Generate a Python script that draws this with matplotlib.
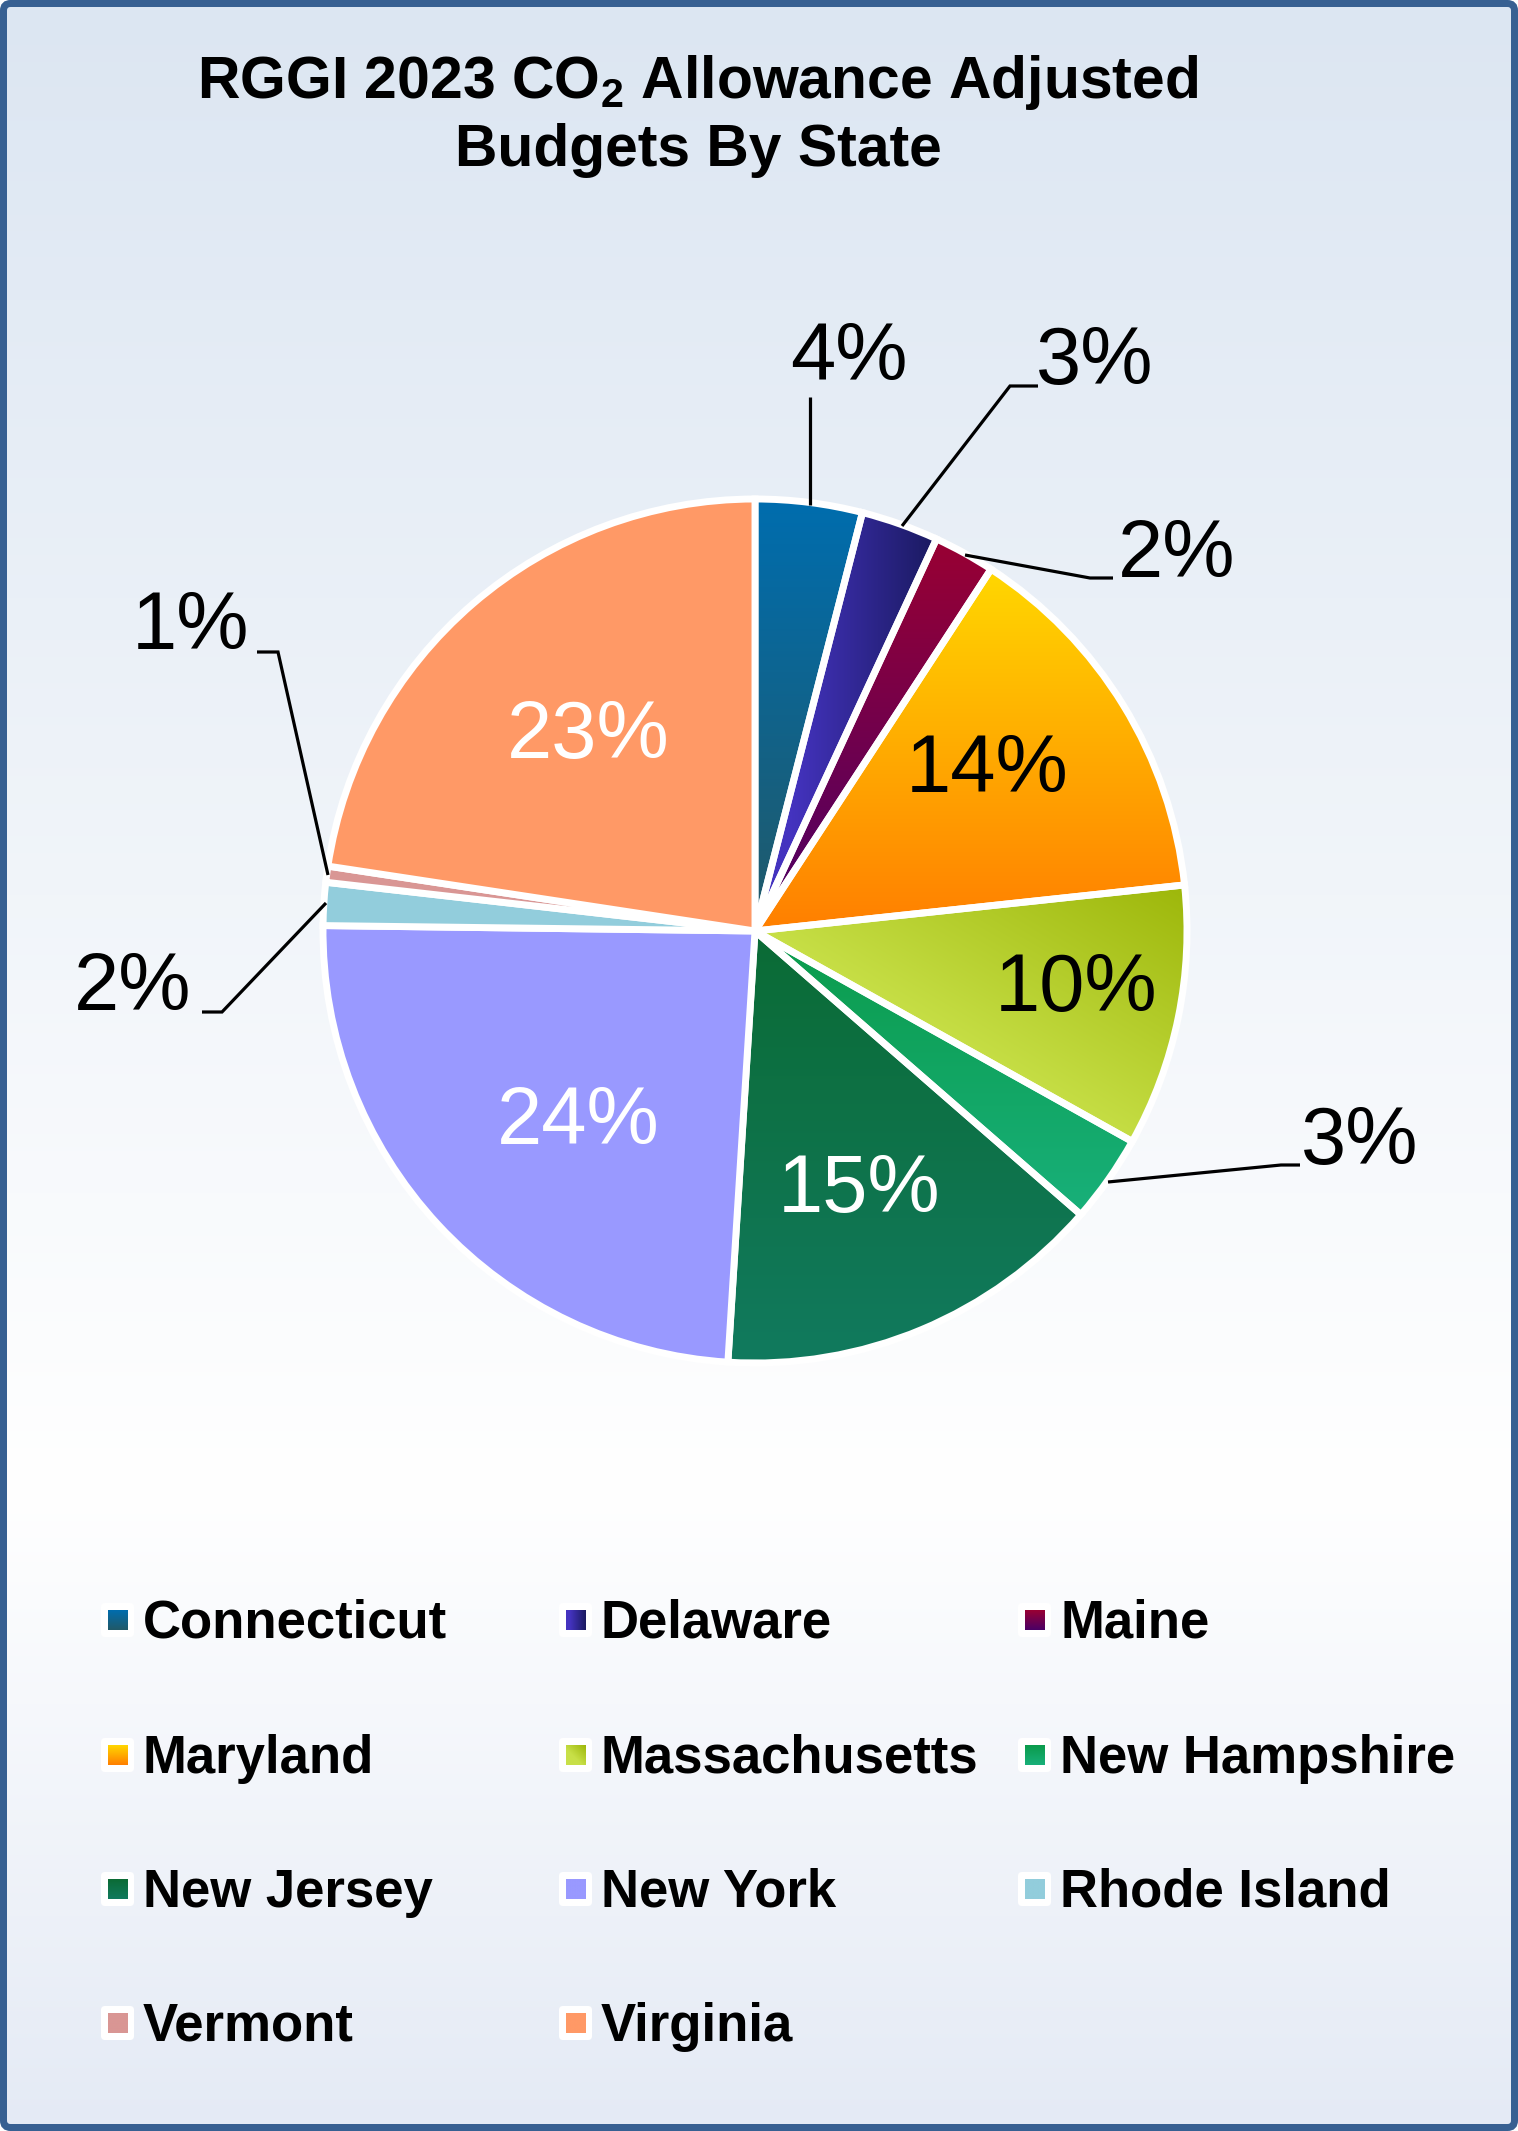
import numpy as np
import matplotlib
matplotlib.use("Agg")
import matplotlib.pyplot as plt
from matplotlib.colors import to_rgb
from matplotlib.patches import FancyBboxPatch

plt.rcParams['font.family'] = ['Liberation Sans', 'DejaVu Sans']
plt.rcParams['mathtext.default'] = 'regular'

# ---------- data ----------
states = ['Connecticut', 'Delaware', 'Maine', 'Maryland', 'Massachusetts', 'New Hampshire',
          'New Jersey', 'New York', 'Rhode Island', 'Vermont', 'Virginia']
shares = [4.0, 2.9, 2.3, 14.1, 9.8, 3.3, 14.6, 24.2, 1.6, 0.6, 22.6]
color_a = ['#006DAE', '#4433BF', '#990033', '#FFD700', '#C8E048', '#0B9B4B',
           '#0B6B35', '#9999FF', '#92CDDC', '#D99694', '#FF9966']
color_b = ['#215968', '#1A1A60', '#4A0066', '#FF7F00', '#9DB70A', '#18B07A',
           '#117A5E', '#9999FF', '#92CDDC', '#D99694', '#FF9966']
grad_dir = ['v', 'h', 'v', 'v', 'd', 'v', 'v', 'v', 'v', 'v', 'v']
title_lines = ['RGGI 2023 CO$_{2}$ Allowance Adjusted', 'Budgets By State']

# ---------- layout (pixels) ----------
W, H = 1518, 2131
CX, CY, R = 755, 931, 432
label_xy = [(849, 359), (1095, 363), (1177, 556), (987, 771), (1076, 990), (1360, 1143),
            (859, 1191), (578, 1123), (133, 989), (191, 628), (588, 737)]
label_col = ['k', 'k', 'k', 'k', 'k', 'k', 'w', 'w', 'k', 'k', 'w']
leaders = [[(810, 397), (810, 505)],
           [(1038, 386), (1010, 386), (902, 526)],
           [(1113, 578), (1090, 578), (965, 555)],
           [(1300, 1165), (1281, 1165), (1108, 1182)],
           [(202, 1012), (222, 1012), (326, 903)],
           [(257, 652), (278, 652), (328, 875)]]
col_x = [108, 566, 1025]
row_y = [1620, 1755, 1889, 2023]


def gradient(c1, c2, kind, n=96):
    a, b = np.array(to_rgb(c1)), np.array(to_rgb(c2))
    y, x = np.mgrid[0:1:n * 1j, 0:1:n * 1j]
    if kind == 'v':
        t = y
    elif kind == 'h':
        t = np.clip((x - 0.2) / 0.8, 0, 1)
    else:
        t = np.clip(((x + (1 - y)) / 2 - 0.4) / 0.6, 0, 1)
    return a + (b - a) * t[..., None]


fig = plt.figure(figsize=(W / 100, H / 100), dpi=100, facecolor='white')

# background and frame
bg = fig.add_axes([0, 0, 1, 1], zorder=0)
bg.set_axis_off()
stops_y = [0, 0.70, 1]
stops = np.array([to_rgb('#DCE6F2'), (1, 1, 1), to_rgb('#E4EAF5')])
yy = np.linspace(0, 1, 512)
bg_img = np.stack([np.interp(yy, stops_y, stops[:, i]) for i in range(3)], axis=1)[:, None, :]
im = bg.imshow(bg_img, extent=(0, W, H, 0), aspect='auto', interpolation='bilinear')
frame = FancyBboxPatch((3.5, 3.5), W - 7, H - 7, boxstyle='round,pad=0,rounding_size=7',
                       fc='none', ec='#376092', lw=7 * 0.72, zorder=5)
bg.add_patch(frame)
im.set_clip_path(frame)
bg.set_xlim(0, W)
bg.set_ylim(H, 0)

# pie
half = 500
ax = fig.add_axes([(CX - half) / W, 1 - (CY + half) / H, 2 * half / W, 2 * half / H], zorder=1)
ax.set_axis_off()
wedges, _ = ax.pie(shares, startangle=90, counterclock=False, radius=1, colors=color_a,
                   wedgeprops=dict(edgecolor='white', linewidth=5.0, zorder=3))
for w, c1, c2, kind in zip(wedges, color_a, color_b, grad_dir):
    if c1 == c2:
        continue
    ext = w.get_path().get_extents(w.get_patch_transform())
    img = ax.imshow(gradient(c1, c2, kind), extent=(ext.x0, ext.x1, ext.y0, ext.y1),
                    aspect='auto', interpolation='bilinear', zorder=2, origin='upper')
    img.set_clip_path(w)
    w.set_facecolor('none')
lim = half / R
ax.set_xlim(-lim, lim)
ax.set_ylim(-lim, lim)
ax.set_aspect('equal')

# overlay in pixels
ov = fig.add_axes([0, 0, 1, 1], zorder=2)
ov.set_axis_off()
ov.patch.set_alpha(0)

for i, line in enumerate(title_lines):
    ov.text(698, 83 + i * 68, line, ha='center', va='center', fontsize=42.4, fontweight='bold', color='k')

for val, (x, y), c in zip(shares, label_xy, label_col):
    ov.text(x, y, f'{round(val)}%', ha='center', va='center', fontsize=58.5, color=c)

for pts in leaders:
    xs, ys = zip(*pts)
    ov.plot(xs, ys, color='k', lw=2.3, solid_joinstyle='miter', solid_capstyle='butt')

for i, name in enumerate(states):
    row, col = i // 3, i % 3
    x, y = col_x[col], row_y[row]
    ov.add_patch(FancyBboxPatch((x - 7, y - 17), 33, 34, boxstyle='round,pad=0,rounding_size=4',
                                fc='white', ec='none', zorder=2))
    ov.imshow(gradient(color_a[i], color_b[i], grad_dir[i]), extent=(x, x + 20, y + 10, y - 10),
              aspect='auto', interpolation='bilinear', zorder=3)
    ov.text(x + 35, y - 2, name, ha='left', va='center_baseline', fontsize=38, fontweight='bold', color='k', zorder=4)
ov.set_xlim(0, W)
ov.set_ylim(H, 0)

fig.savefig('out.png', dpi=100, facecolor='white')
